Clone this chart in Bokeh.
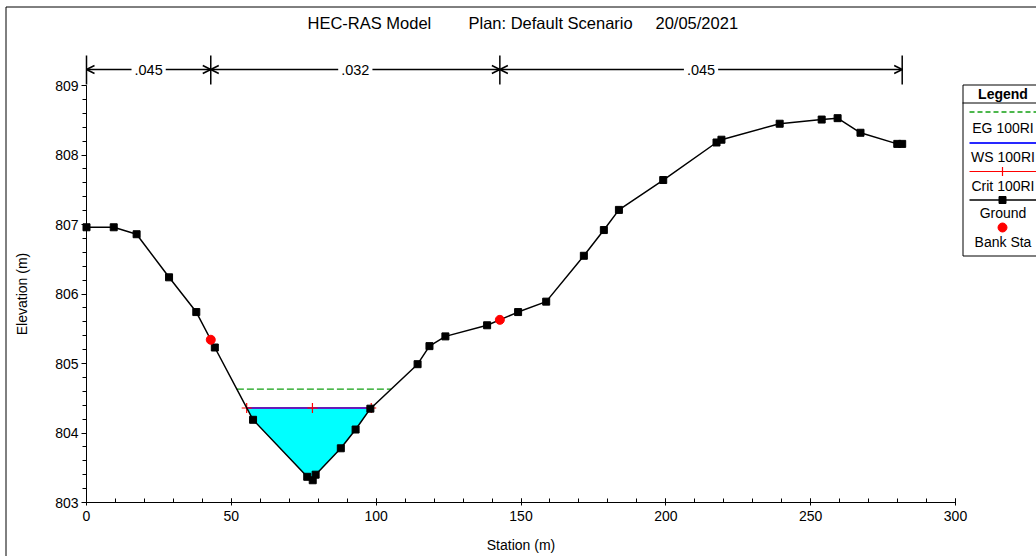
import numpy as np
from bokeh.plotting import figure
from bokeh.models import Range1d, FixedTicker, Label, Arrow, OpenHead, BoxAnnotation
from bokeh.embed import file_html
from bokeh.resources import INLINE

# ---------------- data ----------------
ground_station = [0.0, 9.4, 17.3, 28.5, 37.9, 44.3, 57.5, 76.2, 78.1, 79.1, 87.8, 92.9,
                  98.0, 114.3, 118.4, 123.9, 138.3, 149.0, 158.7, 171.7, 178.6, 183.8,
                  199.1, 217.5, 219.2, 239.3, 253.8, 259.3, 267.2, 279.9, 281.6]
ground_elev = [806.96, 806.96, 806.86, 806.24, 805.74, 805.23, 804.19, 803.37, 803.32, 803.40,
               803.78, 804.05, 804.35, 804.99, 805.25, 805.39, 805.55, 805.74, 805.89, 806.55,
               806.92, 807.21, 807.64, 808.18, 808.22, 808.45, 808.51, 808.53, 808.32, 808.16,
               808.16]
bank_station = [42.9, 142.7]
ws_elev = 804.36
crit_elev = 804.36
eg_elev = 804.63
crit_mark_station = [55.3, 78.0, 98.3]
n_values = [".045", ".032", ".045"]
x_ticks = [0, 50, 100, 150, 200, 250, 300]
y_ticks = [803, 804, 805, 806, 807, 808, 809]
title_parts = ["HEC-RAS Model", "Plan: Default Scenario", "20/05/2021"]
legend_labels = ["EG 100RI", "WS 100RI", "Crit 100RI", "Ground", "Bank Sta"]

FONT = "Liberation Sans"
EG_COLOR = "#12A012"
WS_COLOR = "#2828FF"
CRIT_COLOR = "#FF0000"
gs = np.array(ground_station)
ge = np.array(ground_elev)
bank_elev = list(np.interp(bank_station, gs, ge))
n_breaks = [ground_station[0]] + bank_station + [ground_station[-1]]


def crossings(level):
    """left / right stations where the ground crosses a water level around the thalweg"""
    i_min = int(np.argmin(ge))
    i = i_min
    while ge[i] < level:
        i -= 1
    left = gs[i] + (ge[i] - level) / (ge[i] - ge[i + 1]) * (gs[i + 1] - gs[i])
    j = i_min
    while ge[j] < level:
        j += 1
    right = gs[j - 1] + (level - ge[j - 1]) / (ge[j] - ge[j - 1]) * (gs[j] - gs[j - 1])
    return left, right, i, j


# ---------------- geometry: the frame fills the canvas, axes sit at fixed locations ----------------
W, H = 1036, 556
AX_LEFT, AX_RIGHT, AX_TOP, AX_BOTTOM = 86.0, 955.0, 85.0, 502.0     # pixels of 0/300 and 809/803
PXX = (AX_RIGHT - AX_LEFT) / 300.0
PXY = (AX_BOTTOM - AX_TOP) / 6.0


def dx(px):
    return (px - AX_LEFT) / PXX


def dy(py):
    return 803.0 + (AX_BOTTOM - py) / PXY


p = figure(width=W, height=H, x_range=Range1d(dx(0), dx(W)), y_range=Range1d(dy(H), dy(0)),
           output_backend="svg", toolbar_location=None,
           min_border=0, min_border_left=0, min_border_right=0, min_border_top=0, min_border_bottom=0)
p.title.visible = False
p.outline_line_color = None
p.xgrid.visible = False
p.ygrid.visible = False
p.background_fill_color = "white"
p.border_fill_color = "white"

# axes
p.xaxis.ticker = FixedTicker(ticks=x_ticks, minor_ticks=list(range(0, 301, 10)))
p.yaxis.ticker = FixedTicker(ticks=y_ticks, minor_ticks=[round(803 + 0.2 * k, 1) for k in range(31)])
p.xaxis.fixed_location = 803
p.yaxis.fixed_location = 0
p.xaxis.bounds = (0, 300)
p.yaxis.bounds = (803, 809)
for ax in (p.xaxis[0], p.yaxis[0]):
    ax.axis_line_color = "black"
    ax.major_tick_line_color = "black"
    ax.minor_tick_line_color = "black"
    ax.major_label_text_font = FONT
    ax.major_label_text_font_size = "14px"
    ax.major_label_text_color = "black"
    ax.axis_label_text_font = FONT
    ax.axis_label_text_font_size = "14px"
    ax.axis_label_text_font_style = "normal"
    ax.axis_label_text_color = "black"
p.xaxis.major_tick_in = 4
p.xaxis.major_tick_out = 3
p.xaxis.minor_tick_in = 4
p.xaxis.minor_tick_out = 0
p.xaxis.major_label_standoff = 5
p.xaxis.axis_label = "Station (m)"
p.xaxis.axis_label_standoff = 13
p.yaxis.major_tick_in = 0
p.yaxis.major_tick_out = 5
p.yaxis.minor_tick_in = 0
p.yaxis.minor_tick_out = 4
p.yaxis.major_label_standoff = 3
p.yaxis.axis_label = "Elevation (m)"
p.yaxis.axis_label_standoff = 22

# water area
wl, wr, i, j = crossings(ws_elev)
wx = [wl] + ground_station[i + 1:j] + [wr]
wy = [ws_elev] + ground_elev[i + 1:j] + [ws_elev]
p.patch(wx, wy, fill_color="#00FFFF", line_color=None)

# EG
el, er, _, _ = crossings(eg_elev)
p.line([el, er], [eg_elev, eg_elev], line_color=EG_COLOR, line_width=1.3, line_dash="7 3")
# WS and Crit
p.line([wl, wr], [ws_elev, ws_elev], line_color=WS_COLOR, line_width=2.2)
p.line([wl, wr], [crit_elev, crit_elev], line_color=CRIT_COLOR, line_width=1, line_alpha=0.55)
p.scatter(crit_mark_station, [crit_elev] * len(crit_mark_station), marker="cross", size=10,
          line_color=CRIT_COLOR, line_width=1.2)
# ground
p.line(ground_station, ground_elev, line_color="black", line_width=1.5)
p.scatter(ground_station, ground_elev, marker="square", size=7, fill_color="black", line_color="black")
# bank stations
p.scatter(bank_station, bank_elev, marker="circle", size=9, fill_color="#FF0000", line_color="#FF0000")

# Manning's n annotations
n_y = dy(69)
p.segment(n_breaks, [dy(84)] * len(n_breaks), n_breaks, [dy(55)] * len(n_breaks),
          line_color="black", line_width=1.5)
for k, nv in enumerate(n_values):
    a, b = n_breaks[k], n_breaks[k + 1]
    p.add_layout(Arrow(x_start=a, y_start=n_y, x_end=b, y_end=n_y, line_width=1.3,
                       start=OpenHead(size=8, line_width=1.5), end=OpenHead(size=8, line_width=1.5)))
    p.add_layout(Label(x=(a + b) / 2, y=n_y, text=nv, text_align="center", text_baseline="middle",
                       text_font=FONT, text_font_size="14.5px", text_color="black",
                       background_fill_color="white", padding=3))

# title
for txt, px in zip(title_parts, [307, 468, 655]):
    p.add_layout(Label(x=dx(px), y=dy(22), text=txt, text_align="left", text_baseline="middle",
                       text_font=FONT, text_font_size="16.5px", text_color="black"))


# helper lines (decoration)
def hline(x0, x1, y, **kw):
    p.add_layout(Arrow(x_start=dx(x0), y_start=dy(y), x_end=dx(x1), y_end=dy(y), end=None, start=None, **kw))


def vline(x, y0, y1, **kw):
    p.add_layout(Arrow(x_start=dx(x), y_start=dy(y0), x_end=dx(x), y_end=dy(y1), end=None, start=None, **kw))


# outer frame
hline(5.5, 1040, 6.5, line_color="black", line_width=1)
vline(5.5, 6.5, 560, line_color="black", line_width=1)

# legend
p.add_layout(BoxAnnotation(left=dx(962.5), right=dx(1100), top=dy(84.5), bottom=dy(255.5),
                           fill_color="white", fill_alpha=1, line_color="black", line_width=1, line_alpha=1))
hline(962, 1100, 102.5, line_color="black", line_width=1)
p.add_layout(Label(x=dx(1002.5), y=dy(93), text="Legend", text_align="center", text_baseline="middle",
                   text_font=FONT, text_font_size="14px", text_font_style="bold", text_color="black"))
hline(969, 1100, 111.5, line_color=EG_COLOR, line_width=1.3, line_dash="5 3")
hline(969, 1100, 142.5, line_color=WS_COLOR, line_width=2)
hline(969, 1100, 171, line_color=CRIT_COLOR, line_width=1)
vline(1002, 166.5, 175.5, line_color=CRIT_COLOR, line_width=1.2)
hline(969, 1100, 199.5, line_color="black", line_width=1.5)
p.add_layout(BoxAnnotation(left=dx(998.5), right=dx(1005.5), top=dy(196), bottom=dy(203),
                           fill_color="black", fill_alpha=1, line_color="black", line_alpha=1))
p.add_layout(BoxAnnotation(left=dx(997.5), right=dx(1006.5), top=dy(222.5), bottom=dy(231.5),
                           fill_color="#FF0000", fill_alpha=1, line_color="#FF0000", line_alpha=1,
                           border_radius=5))
for txt, py in zip(legend_labels, [127.5, 156.5, 185.5, 212.5, 241.5]):
    p.add_layout(Label(x=dx(1002.5), y=dy(py), text=txt, text_align="center", text_baseline="middle",
                       text_font=FONT, text_font_size="14px", text_color="black"))

open("out.html", "w").write(file_html(p, INLINE))
